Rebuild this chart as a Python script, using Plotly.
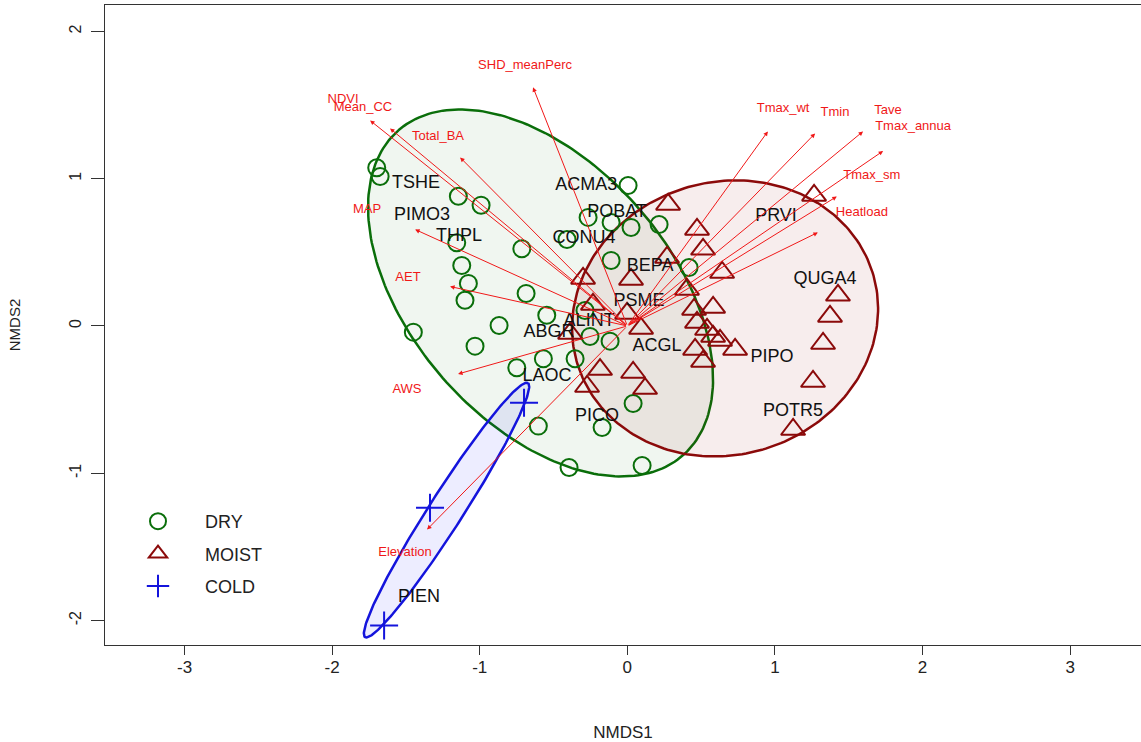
import numpy as np
import plotly.graph_objects as go

FONT = "Liberation Sans, Arial, sans-serif"

# ---------------- site scores ----------------
dry_x = [-1.698, -1.675, -1.145, -0.991, -1.156, -0.715, -1.122, -1.077, -1.100, -0.686,
         -1.450, -0.869, -1.032, -0.546, -0.569, -0.749, -0.354, -0.287, -0.253, -0.117,
         -0.603, -0.171, 0.005, -0.266, -0.110, 0.025, 0.215, -0.409, -0.110, 0.418,
         0.039, -0.395, 0.100]
dry_y = [1.074, 1.015, 0.881, 0.820, 0.565, 0.524, 0.411, 0.289, 0.175, 0.221,
         -0.042, 0.003, -0.137, 0.073, -0.223, -0.284, -0.223, 0.105, -0.071, -0.103,
         -0.680, -0.689, 0.954, 0.737, 0.703, 0.669, 0.689, 0.587, 0.445, 0.397,
         -0.526, -0.961, -0.947]

moist_x = [0.276, 0.472, 0.513, 0.269, 0.642, -0.300, 0.025, -0.233, -0.002, 0.093,
           -0.388, 0.404, 0.452, 0.581, 0.472, 0.540, 0.581, 0.628, 0.730, 0.459,
           0.513, -0.185, 0.039, -0.273, 0.120, 1.265, 1.427, 1.373, 1.326, 1.258, 1.123]
moist_y = [0.825, 0.655, 0.520, 0.465, 0.363, 0.323, 0.316, 0.146, 0.085, -0.017,
           -0.051, 0.248, 0.112, 0.126, 0.024, -0.024, -0.071, -0.098, -0.159, -0.159,
           -0.241, -0.296, -0.316, -0.411, -0.425, 0.886, 0.208, 0.065, -0.119, -0.377, -0.703]

cold_x = [-0.700, -1.337, -1.648]
cold_y = [-0.522, -1.235, -2.034]

# ---------------- species scores ----------------
species = ["TSHE", "PIMO3", "THPL", "ACMA3", "POBAT", "CONU4", "BEPA", "PSME", "ALINT",
           "ABGR", "ACGL", "LAOC", "PICO", "PIPO", "PRVI", "QUGA4", "POTR5", "PIEN"]
sp_x = [-1.432, -1.391, -1.140, -0.279, -0.070, -0.293, 0.154, 0.079, -0.259,
        -0.530, 0.201, -0.544, -0.205, 0.980, 1.007, 1.339, 1.123, -1.411]
sp_y = [0.968, 0.749, 0.608, 0.954, 0.771, 0.594, 0.404, 0.166, 0.031,
        -0.044, -0.139, -0.341, -0.615, -0.214, 0.744, 0.316, -0.581, -1.844]

# ---------------- environmental vectors ----------------
env_names = ["SHD_meanPerc", "NDVI", "Mean_CC", "Total_BA", "MAP", "AET", "AWS", "Elevation",
             "Tmax_wt", "Tmin", "Tave", "Tmax_annua", "Tmax_sm", "Heatload"]
env_x = [-0.639, -1.743, -1.608, -1.133, -1.438, -1.201, -1.147, -1.357,
         0.952, 1.272, 1.597, 1.733, 1.419, 1.291]
env_y = [1.620, 1.395, 1.341, 1.144, 0.655, 0.268, -0.326, -1.382,
         1.321, 1.307, 1.321, 1.188, 0.879, 0.635]
env_lab_x = [-0.693, -1.926, -1.791, -1.283, -1.764, -1.486, -1.493, -1.506,
             1.055, 1.407, 1.766, 1.936, 1.656, 1.589]
env_lab_y = [1.769, 1.538, 1.484, 1.287, 0.791, 0.324, -0.431, -1.538,
             1.477, 1.450, 1.464, 1.355, 1.022, 0.771]

# ---------------- group ellipses (center, semi-axes, angle in degrees) ----------------
ell_group = ["DRY", "MOIST", "COLD"]
ell_cx = [-0.588, 0.662, -1.225]
ell_cy = [0.224, 0.051, -1.250]
ell_a = [1.465, 1.047, 1.024]
ell_b = [0.879, 0.926, 0.115]
ell_ang = [131.1, 17.3, 57.4]

# tick labels
x_ticks = [-3, -2, -1, 0, 1, 2, 3]
x_ticktext = ["-3", "-2", "-1", "0", "1", "2", "3"]
y_ticks = [-2, -1, 0, 1, 2]
y_ticktext = ["-2", "-1", "0", "1", "2"]

GREEN = "#0a6e0a"
DRED = "#8b0a0a"
BLUE = "#1414dc"
line_col = {"DRY": GREEN, "MOIST": DRED, "COLD": BLUE}
fill_col = {"DRY": "rgba(0,100,0,0.06)", "MOIST": "rgba(139,0,0,0.07)", "COLD": "rgba(0,0,255,0.07)"}

fig = go.Figure()

t = np.linspace(0, 2 * np.pi, 241)
for g, cx, cy, a, b, ang in zip(ell_group, ell_cx, ell_cy, ell_a, ell_b, ell_ang):
    th = np.deg2rad(ang)
    ex = cx + a * np.cos(t) * np.cos(th) - b * np.sin(t) * np.sin(th)
    ey = cy + a * np.cos(t) * np.sin(th) + b * np.sin(t) * np.cos(th)
    fig.add_trace(go.Scatter(x=ex, y=ey, mode="lines", fill="toself",
                             fillcolor=fill_col[g], line=dict(color=line_col[g], width=2.5),
                             showlegend=False, hoverinfo="skip"))

fig.add_trace(go.Scatter(x=dry_x, y=dry_y, mode="markers", name="DRY", legendgroup="a",
                         marker=dict(symbol="circle-open", size=17, color=GREEN,
                                     line=dict(width=2, color=GREEN))))
fig.add_trace(go.Scatter(x=moist_x, y=moist_y, mode="markers", name="MOIST", legendgroup="b",
                         marker=dict(symbol="triangle-up-open", size=21, color=DRED,
                                     line=dict(width=2, color=DRED))))
fig.add_trace(go.Scatter(x=cold_x, y=cold_y, mode="markers", name="COLD", legendgroup="c",
                         marker=dict(symbol="cross-thin-open", size=20, color=BLUE,
                                     line=dict(width=2, color=BLUE))))

fig.add_trace(go.Scatter(x=sp_x, y=sp_y, mode="text", text=species, showlegend=False,
                         textfont=dict(family=FONT, size=18, color="#111111"),
                         hoverinfo="skip"))

fig.add_trace(go.Scatter(x=env_lab_x, y=env_lab_y, mode="text", text=env_names, showlegend=False,
                         textfont=dict(family=FONT, size=13, color="#f01818"),
                         hoverinfo="skip"))

annotations = []
for hx, hy in zip(env_x, env_y):
    annotations.append(dict(x=hx, y=hy, ax=0, ay=0, xref="x", yref="y", axref="x", ayref="y",
                            text="", showarrow=True, arrowhead=2, arrowsize=0.9,
                            arrowwidth=1, arrowcolor="#f01818", standoff=0, startstandoff=0))

fig.update_layout(
    width=1141, height=742,
    margin=dict(l=105, r=0, t=5, b=97),
    paper_bgcolor="white", plot_bgcolor="white",
    font=dict(family=FONT, color="#222222"),
    annotations=annotations,
    showlegend=True,
    legend=dict(x=(111 - 105) / 1036, y=(645 - 503) / 640, xanchor="left", yanchor="top",
                font=dict(family=FONT, size=18, color="#222222"), tracegroupgap=6,
                itemwidth=84, bgcolor="rgba(0,0,0,0)"),
    xaxis=dict(range=[-3.539, 3.480], tickvals=x_ticks, ticktext=x_ticktext,
               ticks="outside", ticklen=9, tickwidth=1, tickcolor="#333333",
               showline=True, linecolor="#333333", linewidth=1, mirror=True,
               showgrid=False, zeroline=False, ticklabelstandoff=-2,
               tickfont=dict(family=FONT, size=17, color="#222222"),
               title=dict(text="NMDS1", font=dict(family=FONT, size=17, color="#222222"), standoff=50)),
    yaxis=dict(range=[-2.166, 2.179], tickvals=y_ticks, ticktext=y_ticktext, tickangle=-90,
               ticks="outside", ticklen=13, tickwidth=1, tickcolor="#333333",
               showline=True, linecolor="#333333", linewidth=1, mirror=True,
               showgrid=False, zeroline=False, ticklabelstandoff=4,
               tickfont=dict(family=FONT, size=16, color="#222222"),
               title=dict(text="NMDS2", font=dict(family=FONT, size=15, color="#222222"), standoff=42)),
)

fig.write_html("out.html", config={"displayModeBar": False},
               post_script="document.body.style.margin='0';document.body.style.overflow='hidden';")
